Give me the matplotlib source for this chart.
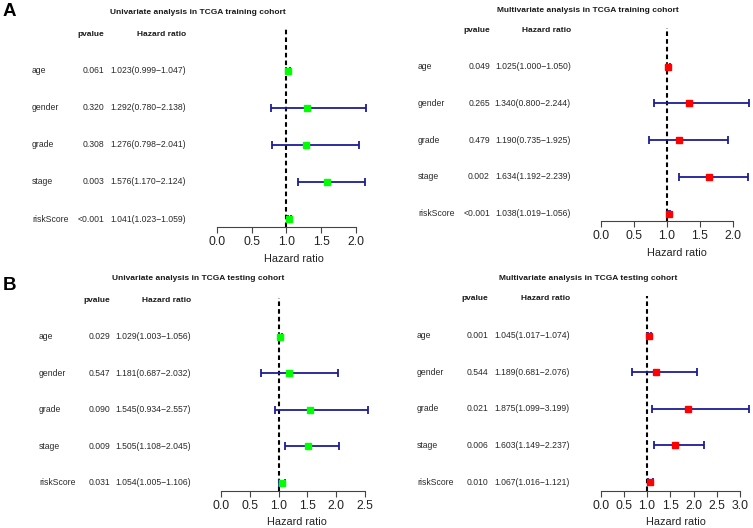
import matplotlib.pyplot as plt
import matplotlib.transforms as mtransforms

W, H = 753, 528

VARIABLES = ["age", "gender", "grade", "stage", "riskScore"]

# A: TCGA training cohort
uni_train_p = ["0.061", "0.320", "0.308", "0.003", "<0.001"]
uni_train_hr = [1.023, 1.292, 1.276, 1.576, 1.041]
uni_train_lo = [0.999, 0.780, 0.798, 1.170, 1.023]
uni_train_hi = [1.047, 2.138, 2.041, 2.124, 1.059]

multi_train_p = ["0.049", "0.265", "0.479", "0.002", "<0.001"]
multi_train_hr = [1.025, 1.340, 1.190, 1.634, 1.038]
multi_train_lo = [1.000, 0.800, 0.735, 1.192, 1.019]
multi_train_hi = [1.050, 2.244, 1.925, 2.239, 1.056]

# B: TCGA testing cohort
uni_test_p = ["0.029", "0.547", "0.090", "0.009", "0.031"]
uni_test_hr = [1.029, 1.181, 1.545, 1.505, 1.054]
uni_test_lo = [1.003, 0.687, 0.934, 1.108, 1.005]
uni_test_hi = [1.056, 2.032, 2.557, 2.045, 1.106]

multi_test_p = ["0.001", "0.544", "0.021", "0.006", "0.010"]
multi_test_hr = [1.045, 1.189, 1.875, 1.603, 1.067]
multi_test_lo = [1.017, 0.681, 1.099, 1.149, 1.016]
multi_test_hi = [1.074, 2.076, 3.199, 2.237, 1.121]

X_TICKS_A = [0.0, 0.5, 1.0, 1.5, 2.0]
X_TICKS_B_UNI = [0.0, 0.5, 1.0, 1.5, 2.0, 2.5]
X_TICKS_B_MULTI = [0.0, 0.5, 1.0, 1.5, 2.0, 2.5, 3.0]

plt.rcParams["font.family"] = ["Liberation Sans", "DejaVu Sans"]

BAR_COLOR = "#1c1c96"


def fx(px):
    return px / W


def fy(py):
    return 1 - py / H


def forest_panel(fig, title, pvals, hr, lo, hi, ticks, box_color, lay):
    x0, unit, right = lay["x0"], lay["unit"], lay["right"]
    age_y, step = lay["age_y"], lay["step"]
    axis_y, top_y = lay["axis_y"], lay["top_y"]

    def row(py):
        return 5 - (py - age_y) / step

    ax = fig.add_axes([fx(x0), fy(axis_y), (right - x0) / W, (axis_y - top_y) / H])
    ax.set_xlim(0, (right - x0) / unit)
    ax.set_ylim(row(axis_y), row(top_y))

    rows = list(range(len(VARIABLES), 0, -1))
    ax.axvline(1.0, color="black", linestyle=(0, (2.2, 1.5)), linewidth=1.5, zorder=1)
    ax.errorbar(hr, rows,
                xerr=[[h - l for h, l in zip(hr, lo)], [u - h for h, u in zip(hr, hi)]],
                fmt="none", ecolor=BAR_COLOR, elinewidth=1.3, capsize=2.6,
                capthick=1.3, zorder=2, clip_on=False)
    ax.plot(hr, rows, "s", color=box_color, markersize=4.6, zorder=3, clip_on=False)

    for side in ["left", "top", "right"]:
        ax.spines[side].set_visible(False)
    ax.spines["bottom"].set_bounds(ticks[0], ticks[-1])
    ax.spines["bottom"].set_color("#444444")
    ax.spines["bottom"].set_linewidth(0.8)
    ax.set_yticks([])
    ax.set_xticks(ticks)
    ax.set_xticklabels([f"{t:.1f}" for t in ticks])
    ax.tick_params(axis="x", length=4, width=0.8, color="#444444", pad=2.5,
                   labelsize=8.8, labelcolor="#222222")
    ax.set_xlabel("Hazard ratio", fontsize=7.8, color="#222222", labelpad=4)

    tr = mtransforms.blended_transform_factory(fig.transFigure, ax.transData)
    text_kw = dict(transform=tr, fontsize=6.2, color="#2a2a2a", va="center", clip_on=False)
    for r, name, p, h, l, u in zip(rows, VARIABLES, pvals, hr, lo, hi):
        ax.text(fx(lay["name_x"]), r, name, ha="left", **text_kw)
        ax.text(fx(lay["p_x"]), r, p, ha="right", **text_kw)
        ax.text(fx(lay["hr_x"]), r, f"{h:.3f}({l:.3f}\u2212{u:.3f})", ha="right", **text_kw)

    head_kw = dict(transform=tr, fontsize=6.0, fontweight="bold", color="#1a1a1a",
                   va="center", clip_on=False)
    ax.text(fx(lay["p_x"]), row(lay["head_y"]), "pvalue", ha="right", **head_kw)
    ax.text(fx(lay["hr_x"]), row(lay["head_y"]), "Hazard ratio", ha="right", **head_kw)

    fig.text(fx(lay["title_x"]), fy(lay["title_y"]), title, ha="center", va="center",
             fontsize=6.0, fontweight="bold", color="#1a1a1a")
    return ax


fig = plt.figure(figsize=(W / 100, H / 100), dpi=100)

lay_a_uni = dict(x0=216.7, unit=69.7, right=372, age_y=70.7, step=37.1, axis_y=227,
                 top_y=29, name_x=32, p_x=104, hr_x=186, head_y=34, title_x=198, title_y=13)
lay_a_multi = dict(x0=601, unit=65.8, right=752, age_y=66.7, step=36.75, axis_y=221,
                   top_y=28, name_x=418, p_x=490, hr_x=571, head_y=30.7, title_x=588, title_y=11)
lay_b_uni = dict(x0=221, unit=57.6, right=372, age_y=336.7, step=36.5, axis_y=490.7,
                 top_y=298, name_x=39, p_x=110, hr_x=191, head_y=300.7, title_x=198, title_y=279)
lay_b_multi = dict(x0=600.7, unit=46.4, right=752, age_y=335.7, step=36.6, axis_y=490.7,
                   top_y=296, name_x=417, p_x=488, hr_x=570, head_y=299, title_x=588, title_y=278)

forest_panel(fig, "Univariate analysis in TCGA training cohort",
             uni_train_p, uni_train_hr, uni_train_lo, uni_train_hi, X_TICKS_A, "#00ff00", lay_a_uni)
forest_panel(fig, "Multivariate analysis in TCGA training cohort",
             multi_train_p, multi_train_hr, multi_train_lo, multi_train_hi, X_TICKS_A, "#ff0000", lay_a_multi)
forest_panel(fig, "Univariate analysis in TCGA testing cohort",
             uni_test_p, uni_test_hr, uni_test_lo, uni_test_hi, X_TICKS_B_UNI, "#00ff00", lay_b_uni)
forest_panel(fig, "Multivariate analysis in TCGA testing cohort",
             multi_test_p, multi_test_hr, multi_test_lo, multi_test_hi, X_TICKS_B_MULTI, "#ff0000", lay_b_multi)

fig.text(fx(9.5), fy(12), "A", ha="center", va="center", fontsize=13.5, fontweight="bold")
fig.text(fx(9.5), fy(285), "B", ha="center", va="center", fontsize=13.5, fontweight="bold")

fig.savefig("out.png", dpi=100)
